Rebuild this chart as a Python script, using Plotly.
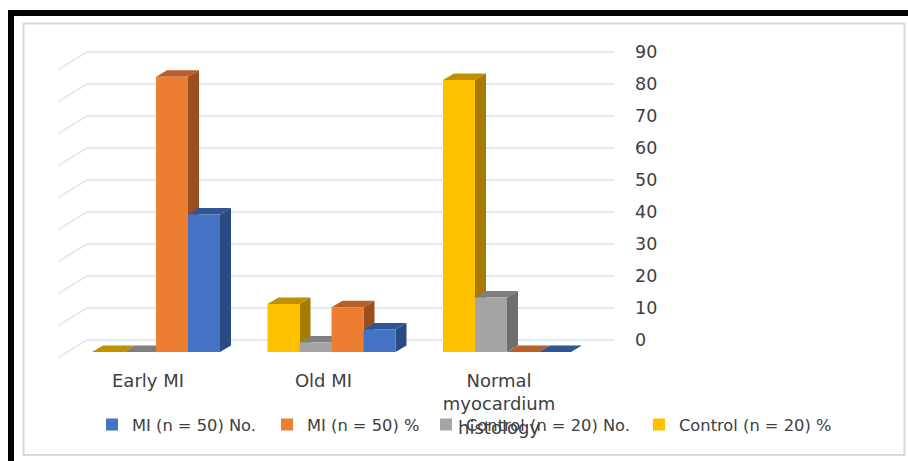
import plotly.graph_objects as go

categories = ["Early MI", "Old MI", "Normal<br>myocardium<br>histology"]
control_pct = [0, 15, 85]
control_no = [0, 3, 17]
mi_pct = [86, 14, 0]
mi_no = [43, 7, 0]
y_ticks = [0, 10, 20, 30, 40, 50, 60, 70, 80, 90]

W, H = 908, 461
PX_X = 175.5      # pixels per category
PX_Y = 3.2        # pixels per value unit
X0 = 156          # pixel of first category centre
BACK0 = 340       # pixel of 0 on the back wall
FRONT0 = 352      # pixel of 0 for the bar fronts
BAR = 32 / PX_X
DX, DY = 11 / PX_X, 6.5 / PX_Y
GRID_L, GRID_R, GRID_F = (87 - X0) / PX_X, (615 - X0) / PX_X, (58 - X0) / PX_X
GRID_DROP = 17.5 / PX_Y
LABEL_SHIFT = -8 / PX_X

FONT = "DejaVu Sans"
TXT = "#404040"

# left-to-right paint order; legend placement in pixels of text start
series = [
    ("Control (n = 20) %", control_pct, "#ffc000", "#bf9000", "#a67c00", 639, "legend4"),
    ("Control (n = 20) No.", control_no, "#a5a5a5", "#7f7f7f", "#6e6e6e", 426, "legend3"),
    ("MI (n = 50) %", mi_pct, "#ed7d31", "#b8602a", "#9a4f1e", 267, "legend2"),
    ("MI (n = 50) No.", mi_no, "#4472c4", "#2f5597", "#294a83", 92, "legend"),
]

fig = go.Figure()

# Back wall and floor gridlines
for t in y_ticks:
    fig.add_trace(go.Scatter(
        x=[GRID_F, GRID_L, GRID_R], y=[t - GRID_DROP, t, t],
        mode="lines", line=dict(color="#e1ebf7", width=2),
        showlegend=False, hoverinfo="skip", xaxis="x", yaxis="y"))

# Depth faces
for k, (name, vals, col, top, side, lx, lg) in enumerate(series):
    off = (k - 1.5) * BAR
    sx, sy, tx, ty = [], [], [], []
    for i, v in enumerate(vals):
        l, r = i + off - BAR / 2, i + off + BAR / 2
        sx += [r, r + DX, r + DX, r, r, None]
        sy += [0, DY, v + DY, v, 0, None]
        tx += [l, l + DX, r + DX, r, l, None]
        ty += [v, v + DY, v + DY, v, v, None]
    for xs, ys, c in ((sx, sy, side), (tx, ty, top)):
        fig.add_trace(go.Scatter(
            x=xs, y=ys, mode="lines", fill="toself", fillcolor=c,
            line=dict(width=0, color=c), showlegend=False,
            hoverinfo="skip", xaxis="x", yaxis="y2"))

# Front faces
for name, vals, col, top, side, lx, lg in series:
    fig.add_trace(go.Bar(
        x=list(range(len(categories))), y=vals, name=name,
        marker=dict(color=col, line=dict(width=0)),
        xaxis="x", yaxis="y3", legend=lg))

legend_base = dict(
    y=1 - 425 / H, yanchor="middle", xanchor="left", orientation="h",
    bgcolor="rgba(0,0,0,0)", borderwidth=0,
    font=dict(family=FONT, size=16.3, color=TXT),
)
layout_legends = {lg: dict(legend_base, x=lx / W) for *_, lx, lg in series}

y_back = [(BACK0 - H) / PX_Y, BACK0 / PX_Y]
y_front = [(FRONT0 - H) / PX_Y, FRONT0 / PX_Y]

fig.update_layout(
    width=W, height=H,
    margin=dict(l=0, r=0, t=0, b=0),
    paper_bgcolor="white", plot_bgcolor="white",
    barmode="group", bargap=1 - 4 * BAR, bargroupgap=0,
    hovermode=False,
    xaxis=dict(
        domain=[0, 1], range=[-X0 / PX_X, (W - X0) / PX_X],
        tickmode="array",
        tickvals=[i + LABEL_SHIFT for i in range(len(categories))],
        ticktext=categories, showgrid=False, zeroline=False, showline=False,
        ticks="", anchor="free", position=1 - FRONT0 / H, side="bottom",
        ticklabelstandoff=16, tickfont=dict(family=FONT, size=18, color=TXT),
    ),
    yaxis=dict(
        domain=[0, 1], range=y_back, tickmode="array", tickvals=y_ticks,
        showgrid=False, zeroline=False, showline=False, ticks="",
        anchor="free", position=615 / W, side="right", ticklabelstandoff=19,
        tickfont=dict(family=FONT, size=17.5, color=TXT),
    ),
    yaxis2=dict(domain=[0, 1], range=y_front, overlaying="y", visible=False),
    yaxis3=dict(domain=[0, 1], range=y_front, overlaying="y", visible=False),
    shapes=[
        dict(type="rect", xref="paper", yref="paper",
             x0=23.5 / W, x1=904.5 / W, y0=1 - 455 / H, y1=1 - 23.5 / H,
             line=dict(color="#d9d9d9", width=2), layer="below"),
        dict(type="rect", xref="paper", yref="paper",
             x0=8 / W, x1=1, y0=1 - 16 / H, y1=1 - 10 / H,
             fillcolor="black", line=dict(width=0), layer="below"),
        dict(type="rect", xref="paper", yref="paper",
             x0=8 / W, x1=14 / W, y0=0, y1=1 - 10 / H,
             fillcolor="black", line=dict(width=0), layer="below"),
    ],
    **layout_legends,
)

fig.write_html(
    "out.html",
    config={"displayModeBar": False},
    post_script="document.body.style.margin='0';document.body.style.overflow='hidden';",
)
